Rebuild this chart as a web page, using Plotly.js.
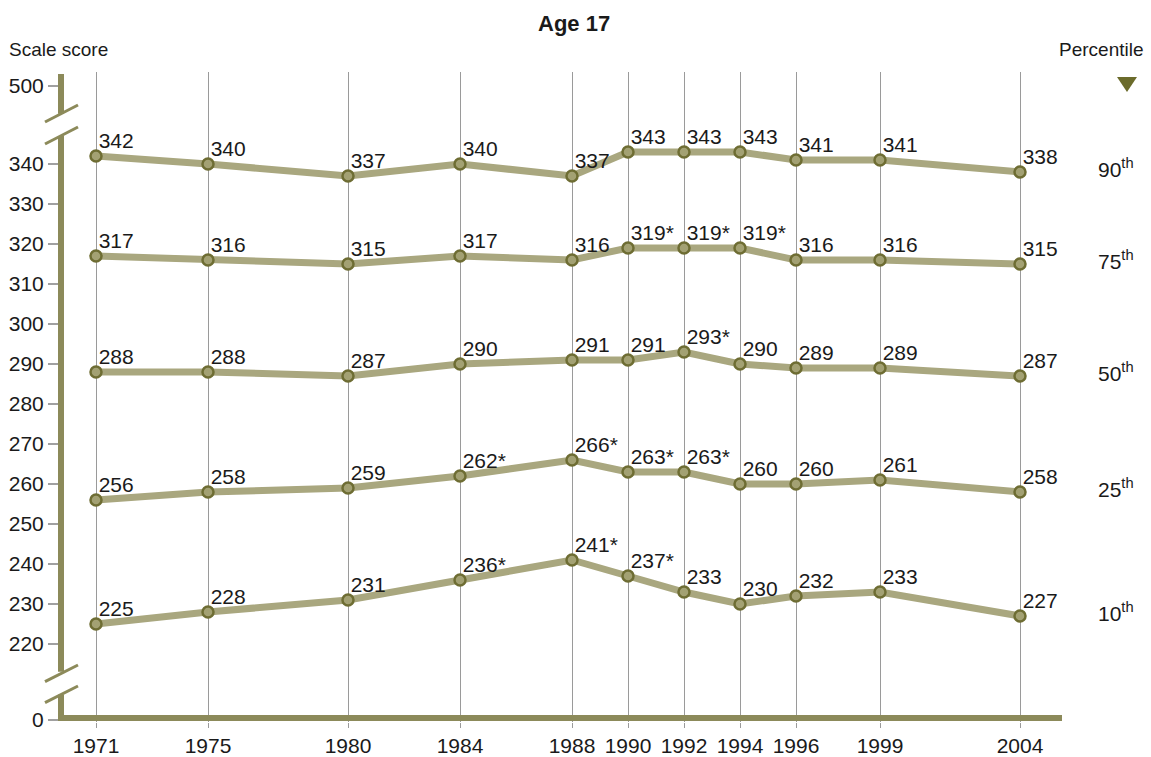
<!DOCTYPE html>
<html>
<head>
<meta charset="utf-8">
<script src="https://cdn.plot.ly/plotly-3.0.1.min.js"></script>
<style>
html,body{margin:0;padding:0;background:#fff;}
#chart{width:1151px;height:757px;}
</style>
</head>
<body>
<div id="chart"></div>
<script>
// ---- data ----
var years = [1971, 1975, 1980, 1984, 1988, 1990, 1992, 1994, 1996, 1999, 2004];
var percentiles = ["90", "75", "50", "25", "10"];
var p90 = [342, 340, 337, 340, 337, 343, 343, 343, 341, 341, 338];
var p75 = [317, 316, 315, 317, 316, 319, 319, 319, 316, 316, 315];
var p50 = [288, 288, 287, 290, 291, 291, 293, 290, 289, 289, 287];
var p25 = [256, 258, 259, 262, 266, 263, 263, 260, 260, 261, 258];
var p10 = [225, 228, 231, 236, 241, 237, 233, 230, 232, 233, 227];
// significance markers (1 = asterisk)
var sig90 = [0,0,0,0,0,0,0,0,0,0,0];
var sig75 = [0,0,0,0,0,1,1,1,0,0,0];
var sig50 = [0,0,0,0,0,0,1,0,0,0,0];
var sig25 = [0,0,0,1,1,1,1,0,0,0,0];
var sig10 = [0,0,0,1,1,1,0,0,0,0,0];
var yTickLabels = ["0", "220", "230", "240", "250", "260", "270", "280", "290", "300", "310", "320", "330", "340", "500"];
var yTickVals   = [201, 220, 230, 240, 250, 260, 270, 280, 290, 300, 310, 320, 330, 340, 359.5]; // broken scale positions

var series = [p90, p75, p50, p25, p10];
var sigs = [sig90, sig75, sig50, sig25, sig10];

var lineColor = "#a9a77f";
var markerLine = "#6e6d33";
var axisColor = "#8c8a5a";
var numFont = "Liberation Sans, Arial, sans-serif";

var traces = [];
series.forEach(function(vals, i){
  traces.push({
    x: years, y: vals, type: "scatter", mode: "lines+markers",
    line: {color: lineColor, width: 7},
    marker: {size: 11, color: "#a3a173", line: {color: markerLine, width: 2.5}},
    hoverinfo: "x+y", showlegend: false, cliponaxis: false
  });
});
series.forEach(function(vals, i){
  traces.push({
    x: years, y: vals, type: "scatter", mode: "markers+text",
    text: vals.map(function(v, j){ return v + (sigs[i][j] ? "*" : ""); }),
    textposition: "top right",
    textfont: {family: numFont, size: 21, color: "#1a1a1a"},
    marker: {size: 2.6, color: "rgba(0,0,0,0)"},
    hoverinfo: "skip", showlegend: false, cliponaxis: false
  });
});

// plot area geometry (pixels) for decorations
var L = 61, T = 72, W = 1001, H = 650;
function px(x){ return (x - L) / W; }
function py(y){ return (T + H - y) / H; }

var shapes = [];
function seg(x0, y0, x1, y1, w){
  shapes.push({type: "line", xref: "paper", yref: "paper",
    x0: px(x0), y0: py(y0), x1: px(x1), y1: py(y1),
    line: {color: axisColor, width: w}, layer: "above"});
}
// vertical broken axis
seg(61, 74, 61, 113.8, 6);
seg(61, 136, 61, 671.7, 6);
seg(61, 694.6, 61, 721, 6);
// break slashes
seg(45, 122, 78, 105, 3);
seg(45, 144, 78, 127, 3);
seg(45, 681.7, 78, 665, 3);
seg(45, 702.7, 78, 686, 3);
// baseline
seg(58, 718, 1062, 718, 6);
// percentile triangle marker
shapes.push({type: "path", xref: "paper", yref: "paper",
  path: "M " + px(1117) + " " + py(77) + " L " + px(1137) + " " + py(77) + " L " + px(1127) + " " + py(92) + " Z",
  fillcolor: "#6b6b2b", line: {width: 0}});

var annotations = [
  {text: "<b>Age 17</b>", xref: "paper", yref: "paper", x: px(574), y: py(24), xanchor: "center", yanchor: "middle",
   showarrow: false, font: {family: numFont, size: 22, color: "#1a1a1a"}},
  {text: "Scale score", xref: "paper", yref: "paper", x: px(7), y: py(49), xanchor: "left", yanchor: "middle",
   showarrow: false, font: {family: numFont, size: 19, color: "#1a1a1a"}},
  {text: "Percentile", xref: "paper", yref: "paper", x: px(1146), y: py(49), xanchor: "right", yanchor: "middle",
   showarrow: false, font: {family: numFont, size: 19, color: "#1a1a1a"}}
];
percentiles.forEach(function(p, i){
  var last = series[i][series[i].length - 1];
  annotations.push({text: p + "<sup>th</sup>", xref: "paper", yref: "y", x: px(1096), y: last + 1,
    xanchor: "left", yanchor: "middle", showarrow: false,
    font: {family: numFont, size: 21, color: "#1a1a1a"}});
});

var layout = {
  width: 1151, height: 757,
  margin: {l: L, r: 1151 - L - W, t: T, b: 757 - T - H, pad: 0},
  paper_bgcolor: "#fff", plot_bgcolor: "#fff",
  xaxis: {range: [1969.75, 2005.5], tickvals: years, ticktext: years.map(String),
    showgrid: true, gridcolor: "#9a9a9a", gridwidth: 1, zeroline: false, showline: false,
    ticks: "outside", ticklen: 5, tickcolor: "#9a9a9a", tickwidth: 1,
    tickfont: {family: numFont, size: 21, color: "#1a1a1a"}, fixedrange: true},
  yaxis: {range: [200.5, 363], tickvals: yTickVals, ticktext: yTickLabels,
    showgrid: false, zeroline: false, showline: false,
    ticks: "outside", ticklen: 12, tickcolor: "#a0a0a0", tickwidth: 1.5,
    tickfont: {family: numFont, size: 21, color: "#1a1a1a"}, fixedrange: true},
  shapes: shapes,
  annotations: annotations,
  hovermode: "closest"
};

Plotly.newPlot("chart", traces, layout, {displayModeBar: false});
</script>
</body>
</html>
